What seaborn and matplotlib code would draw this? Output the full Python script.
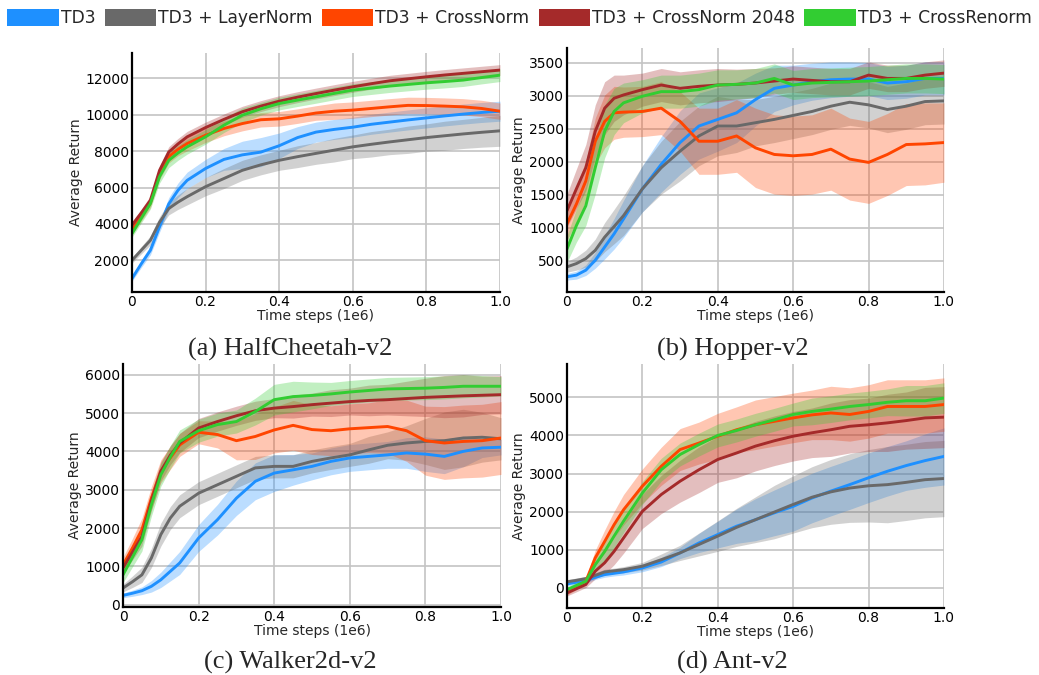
import matplotlib
matplotlib.use("Agg")
import matplotlib.pyplot as plt
import seaborn as sns
import pandas as pd
from matplotlib.patches import Patch
from matplotlib.ticker import MultipleLocator

# methods and colours
methods = ["TD3", "TD3 + LayerNorm", "TD3 + CrossNorm", "TD3 + CrossNorm 2048", "TD3 + CrossRenorm"]
colors = ["#1E90FF", "#696969", "#FF4500", "#A52A2A", "#32CD32"]

# time steps (1e6)
steps = [0, 0.025, 0.05, 0.075, 0.1, 0.125, 0.15, 0.2, 0.25, 0.3, 0.35, 0.4,
         0.45, 0.5, 0.55, 0.6, 0.65, 0.7, 0.75, 0.8, 0.85, 0.9, 0.95, 1.0]

# ---- HalfCheetah-v2 (mean / band half width)
hc_td3 = [1000, 1800, 2550, 3850, 5100, 5850, 6400, 7050, 7550, 7800, 7950, 8300,
          8750, 9050, 9200, 9320, 9480, 9600, 9720, 9830, 9940, 10040, 10130, 10200]
hc_td3_sd = [150, 200, 250, 300, 350, 400, 450, 500, 600, 750, 800, 700,
             600, 550, 550, 550, 550, 550, 550, 550, 550, 550, 550, 550]
hc_ln = [2000, 2550, 3100, 4100, 4850, 5200, 5500, 6050, 6500, 6950, 7250, 7500,
         7700, 7880, 8060, 8240, 8380, 8510, 8630, 8750, 8850, 8950, 9040, 9120]
hc_ln_sd = [150, 200, 250, 300, 350, 400, 450, 500, 550, 550, 550, 550,
            600, 600, 650, 650, 700, 700, 750, 750, 800, 800, 820, 850]
hc_cn = [3650, 4400, 5150, 6750, 7700, 8100, 8420, 8880, 9250, 9520, 9730, 9780,
         9930, 10100, 10200, 10260, 10350, 10440, 10520, 10510, 10480, 10440, 10350, 10200]
hc_cn_sd = [250, 250, 250, 300, 350, 350, 400, 400, 400, 400, 400, 400,
            400, 400, 450, 450, 450, 450, 450, 450, 450, 450, 450, 450]
hc_cn2048 = [3930, 4600, 5300, 6950, 7950, 8400, 8790, 9300, 9750, 10170, 10480, 10750,
             10970, 11170, 11360, 11540, 11710, 11870, 11980, 12090, 12190, 12280, 12370, 12460]
hc_cn2048_sd = [200, 200, 250, 250, 300, 300, 300, 300, 300, 300, 300, 300,
                300, 300, 300, 300, 300, 300, 300, 300, 300, 300, 300, 300]
hc_crn = [3470, 4300, 5120, 6600, 7500, 7900, 8240, 8790, 9430, 9980, 10330, 10620,
          10810, 10990, 11180, 11360, 11470, 11580, 11670, 11760, 11830, 11910, 12050, 12180]
hc_crn_sd = [200, 250, 300, 350, 400, 400, 400, 400, 400, 400, 350, 350,
             350, 350, 350, 350, 350, 350, 350, 350, 350, 350, 350, 350]

# ---- Hopper-v2
hop_td3 = [260, 285, 360, 510, 710, 910, 1135, 1590, 1960, 2290, 2540, 2640,
           2740, 2940, 3110, 3160, 3210, 3240, 3250, 3250, 3190, 3210, 3260, 3260]
hop_td3_sd = [50, 60, 80, 120, 180, 230, 280, 350, 420, 480, 500, 480,
              450, 400, 350, 300, 280, 270, 260, 250, 250, 250, 250, 250]
hop_ln = [410, 460, 535, 660, 860, 1020, 1185, 1590, 1910, 2160, 2390, 2540,
          2540, 2590, 2640, 2700, 2760, 2840, 2900, 2860, 2790, 2840, 2910, 2920]
hop_ln_sd = [80, 100, 130, 170, 220, 260, 300, 350, 400, 450, 450, 450,
             400, 350, 350, 350, 350, 350, 350, 350, 350, 350, 350, 350]
hop_cn = [1060, 1360, 1710, 2310, 2610, 2740, 2750, 2760, 2810, 2610, 2310, 2310,
          2390, 2210, 2110, 2090, 2110, 2190, 2040, 1990, 2110, 2260, 2270, 2290]
hop_cn_sd = [250, 280, 300, 350, 400, 400, 380, 380, 400, 450, 500, 500,
             550, 600, 600, 600, 600, 620, 620, 620, 620, 620, 620, 600]
hop_cn2048 = [1260, 1590, 1910, 2460, 2810, 2960, 3010, 3090, 3160, 3110, 3140, 3160,
              3170, 3190, 3220, 3250, 3230, 3210, 3210, 3310, 3260, 3260, 3310, 3340]
hop_cn2048_sd = [250, 300, 350, 400, 400, 350, 300, 250, 250, 250, 250, 250,
                 230, 220, 200, 200, 200, 200, 200, 200, 200, 200, 200, 200]
hop_crn = [680, 1035, 1335, 1910, 2460, 2760, 2890, 2990, 3060, 3060, 3090, 3160,
           3170, 3190, 3260, 3160, 3190, 3200, 3210, 3220, 3240, 3260, 3260, 3250]
hop_crn_sd = [200, 250, 300, 400, 400, 350, 300, 250, 250, 250, 250, 230,
              220, 220, 220, 220, 220, 220, 220, 220, 220, 220, 220, 220]

# ---- Walker2d-v2
wk_td3 = [243, 300, 365, 480, 650, 870, 1090, 1740, 2220, 2780, 3220, 3435,
          3520, 3610, 3740, 3830, 3870, 3910, 3960, 3930, 3870, 4000, 4090, 4110]
wk_td3_sd = [60, 80, 100, 150, 200, 250, 300, 350, 400, 450, 480, 480,
             400, 350, 350, 350, 350, 350, 400, 450, 450, 400, 250, 200]
wk_ln = [435, 600, 780, 1220, 1830, 2260, 2570, 2910, 3130, 3350, 3570, 3610,
         3610, 3740, 3830, 3910, 4040, 4160, 4220, 4260, 4280, 4350, 4370, 4330]
wk_ln_sd = [100, 150, 200, 250, 300, 300, 300, 300, 300, 300, 300, 300,
            300, 300, 300, 300, 350, 350, 450, 600, 750, 750, 650, 550]
wk_cn = [1040, 1480, 1960, 2780, 3480, 3830, 4170, 4500, 4440, 4280, 4390, 4560,
         4680, 4570, 4540, 4590, 4620, 4650, 4540, 4280, 4220, 4260, 4280, 4350]
wk_cn_sd = [200, 250, 300, 300, 300, 300, 300, 300, 350, 500, 600, 600,
            650, 650, 650, 650, 650, 700, 800, 900, 950, 950, 950, 950]
wk_cn2048 = [960, 1370, 1780, 2700, 3480, 3900, 4220, 4610, 4780, 4930, 5060, 5130,
             5170, 5220, 5260, 5300, 5330, 5350, 5380, 5410, 5430, 5450, 5465, 5480]
wk_cn2048_sd = [150, 200, 250, 250, 250, 250, 250, 250, 250, 250, 250, 250,
                300, 300, 350, 350, 400, 400, 450, 500, 550, 550, 500, 500]
wk_crn = [780, 1240, 1700, 2610, 3390, 3850, 4260, 4540, 4700, 4780, 5040, 5350,
          5430, 5460, 5500, 5550, 5590, 5630, 5640, 5650, 5670, 5700, 5700, 5700]
wk_crn_sd = [200, 250, 300, 300, 300, 300, 300, 300, 300, 300, 350, 400,
             400, 350, 300, 300, 300, 300, 300, 300, 300, 300, 280, 250]

# ---- Ant-v2
ant_td3 = [105, 150, 190, 280, 350, 385, 420, 525, 680, 920, 1180, 1400,
           1620, 1790, 1970, 2140, 2360, 2540, 2710, 2890, 3060, 3210, 3340, 3450]
ant_td3_sd = [50, 50, 60, 60, 70, 70, 80, 100, 120, 150, 250, 350,
              450, 550, 600, 650, 650, 650, 650, 650, 650, 650, 700, 750]
ant_ln = [160, 200, 245, 330, 420, 450, 480, 570, 740, 920, 1140, 1360,
          1590, 1790, 1990, 2190, 2380, 2520, 2620, 2680, 2710, 2770, 2840, 2870]
ant_ln_sd = [60, 60, 60, 70, 70, 70, 80, 100, 150, 200, 300, 400,
             500, 600, 700, 750, 800, 850, 900, 950, 1000, 1000, 1000, 1000]
ant_cn = [-105, 40, 175, 790, 1220, 1660, 2050, 2670, 3190, 3630, 3800, 3980,
          4150, 4280, 4370, 4460, 4540, 4590, 4550, 4630, 4760, 4760, 4760, 4810]
ant_cn_sd = [80, 80, 80, 200, 300, 350, 400, 450, 500, 550, 550, 600,
             600, 650, 650, 650, 650, 700, 700, 700, 700, 700, 700, 700]
ant_cn2048 = [-130, -20, 90, 440, 660, 960, 1310, 2010, 2450, 2800, 3100, 3370,
              3540, 3720, 3860, 3980, 4070, 4150, 4240, 4280, 4330, 4390, 4460, 4480]
ant_cn2048_sd = [80, 80, 80, 200, 300, 350, 400, 450, 500, 550, 600, 600,
                 650, 650, 650, 650, 650, 700, 700, 700, 750, 750, 800, 800]
ant_crn = [-45, 65, 175, 610, 960, 1360, 1750, 2490, 3100, 3500, 3760, 4000,
           4130, 4280, 4410, 4550, 4630, 4690, 4760, 4810, 4870, 4910, 4910, 4980]
ant_crn_sd = [80, 80, 80, 200, 300, 300, 300, 300, 300, 300, 300, 300,
              300, 300, 300, 300, 350, 350, 350, 350, 350, 400, 400, 400]

# panel title, curves, y limits, y tick step, axes rect (fig fraction), caption x, caption baseline y
panels = [
    ("(a) HalfCheetah-v2",
     [(hc_td3, hc_td3_sd), (hc_ln, hc_ln_sd), (hc_cn, hc_cn_sd), (hc_cn2048, hc_cn2048_sd), (hc_crn, hc_crn_sd)],
     (260, 13400), 2000, [0.1270, 0.5674, 0.3542, 0.3541], 0.279, 0.4726),
    ("(b) Hopper-v2",
     [(hop_td3, hop_td3_sd), (hop_ln, hop_ln_sd), (hop_cn, hop_cn_sd), (hop_cn2048, hop_cn2048_sd), (hop_crn, hop_crn_sd)],
     (30, 3720), 500, [0.5457, 0.5674, 0.3628, 0.3615], 0.705, 0.4726),
    ("(c) Walker2d-v2",
     [(wk_td3, wk_td3_sd), (wk_ln, wk_ln_sd), (wk_cn, wk_cn_sd), (wk_cn2048, wk_cn2048_sd), (wk_crn, wk_crn_sd)],
     (-60, 6280), 1000, [0.1184, 0.1007, 0.3638, 0.3600], 0.279, 0.0095),
    ("(d) Ant-v2",
     [(ant_td3, ant_td3_sd), (ant_ln, ant_ln_sd), (ant_cn, ant_cn_sd), (ant_cn2048, ant_cn2048_sd), (ant_crn, ant_crn_sd)],
     (-525, 5875), 1000, [0.5457, 0.0993, 0.3628, 0.3615], 0.705, 0.0095),
]

sns.set_theme(style="whitegrid")
plt.rcParams['font.family'] = ['DejaVu Sans']

fig = plt.figure(figsize=(10.39, 6.75), dpi=100)

for title, curves, ylim, ystep, rect, cap_x, cap_y in panels:
    # long form: lower / mean / upper rows, median + full interval gives mean and band
    rows = []
    for name, (mean, sd) in zip(methods, curves):
        for x, m, s in zip(steps, mean, sd):
            rows.append({"step": x, "ret": m - s, "method": name})
            rows.append({"step": x, "ret": m, "method": name})
            rows.append({"step": x, "ret": m + s, "method": name})
    df = pd.DataFrame(rows)

    ax = fig.add_axes(rect)
    sns.lineplot(data=df, x="step", y="ret", hue="method", hue_order=methods,
                 palette=colors, estimator="median", errorbar=("pi", 100),
                 err_kws={"alpha": 0.3, "linewidth": 0}, linewidth=2.1,
                 legend=False, ax=ax)

    ax.set_xlim(0, 1.0)
    ax.set_ylim(*ylim)
    ax.yaxis.set_major_locator(MultipleLocator(ystep))
    ax.set_xticks([0, 0.2, 0.4, 0.6, 0.8, 1.0])
    ax.set_xticklabels(["0", "0.2", "0.4", "0.6", "0.8", "1.0"])
    ax.grid(True, color="#c4c4c4", linewidth=1.2)
    ax.set_facecolor("white")
    for side in ["top", "right"]:
        ax.spines[side].set_visible(False)
    for side in ["left", "bottom"]:
        ax.spines[side].set_color("black")
        ax.spines[side].set_linewidth(1.6)
    ax.tick_params(axis="both", labelsize=10, pad=2, length=0, colors="black")
    ax.set_xlabel("Time steps (1e6)", fontsize=10, labelpad=0)
    ax.set_ylabel("Average Return", fontsize=10, labelpad=2)

    fig.text(cap_x, cap_y, title, ha="center", va="baseline",
             fontsize=19, family="Liberation Serif")

handles = [Patch(facecolor=c, edgecolor="none") for c in colors]
fig.legend(handles, methods, loc="upper center", bbox_to_anchor=(0.5, 1.0),
           ncol=5, frameon=False, fontsize=12.3, handlelength=3.0, handleheight=1.1,
           handletextpad=0.12, columnspacing=0.55, borderaxespad=0.15)

fig.savefig("out.png", dpi=100, facecolor="white")
